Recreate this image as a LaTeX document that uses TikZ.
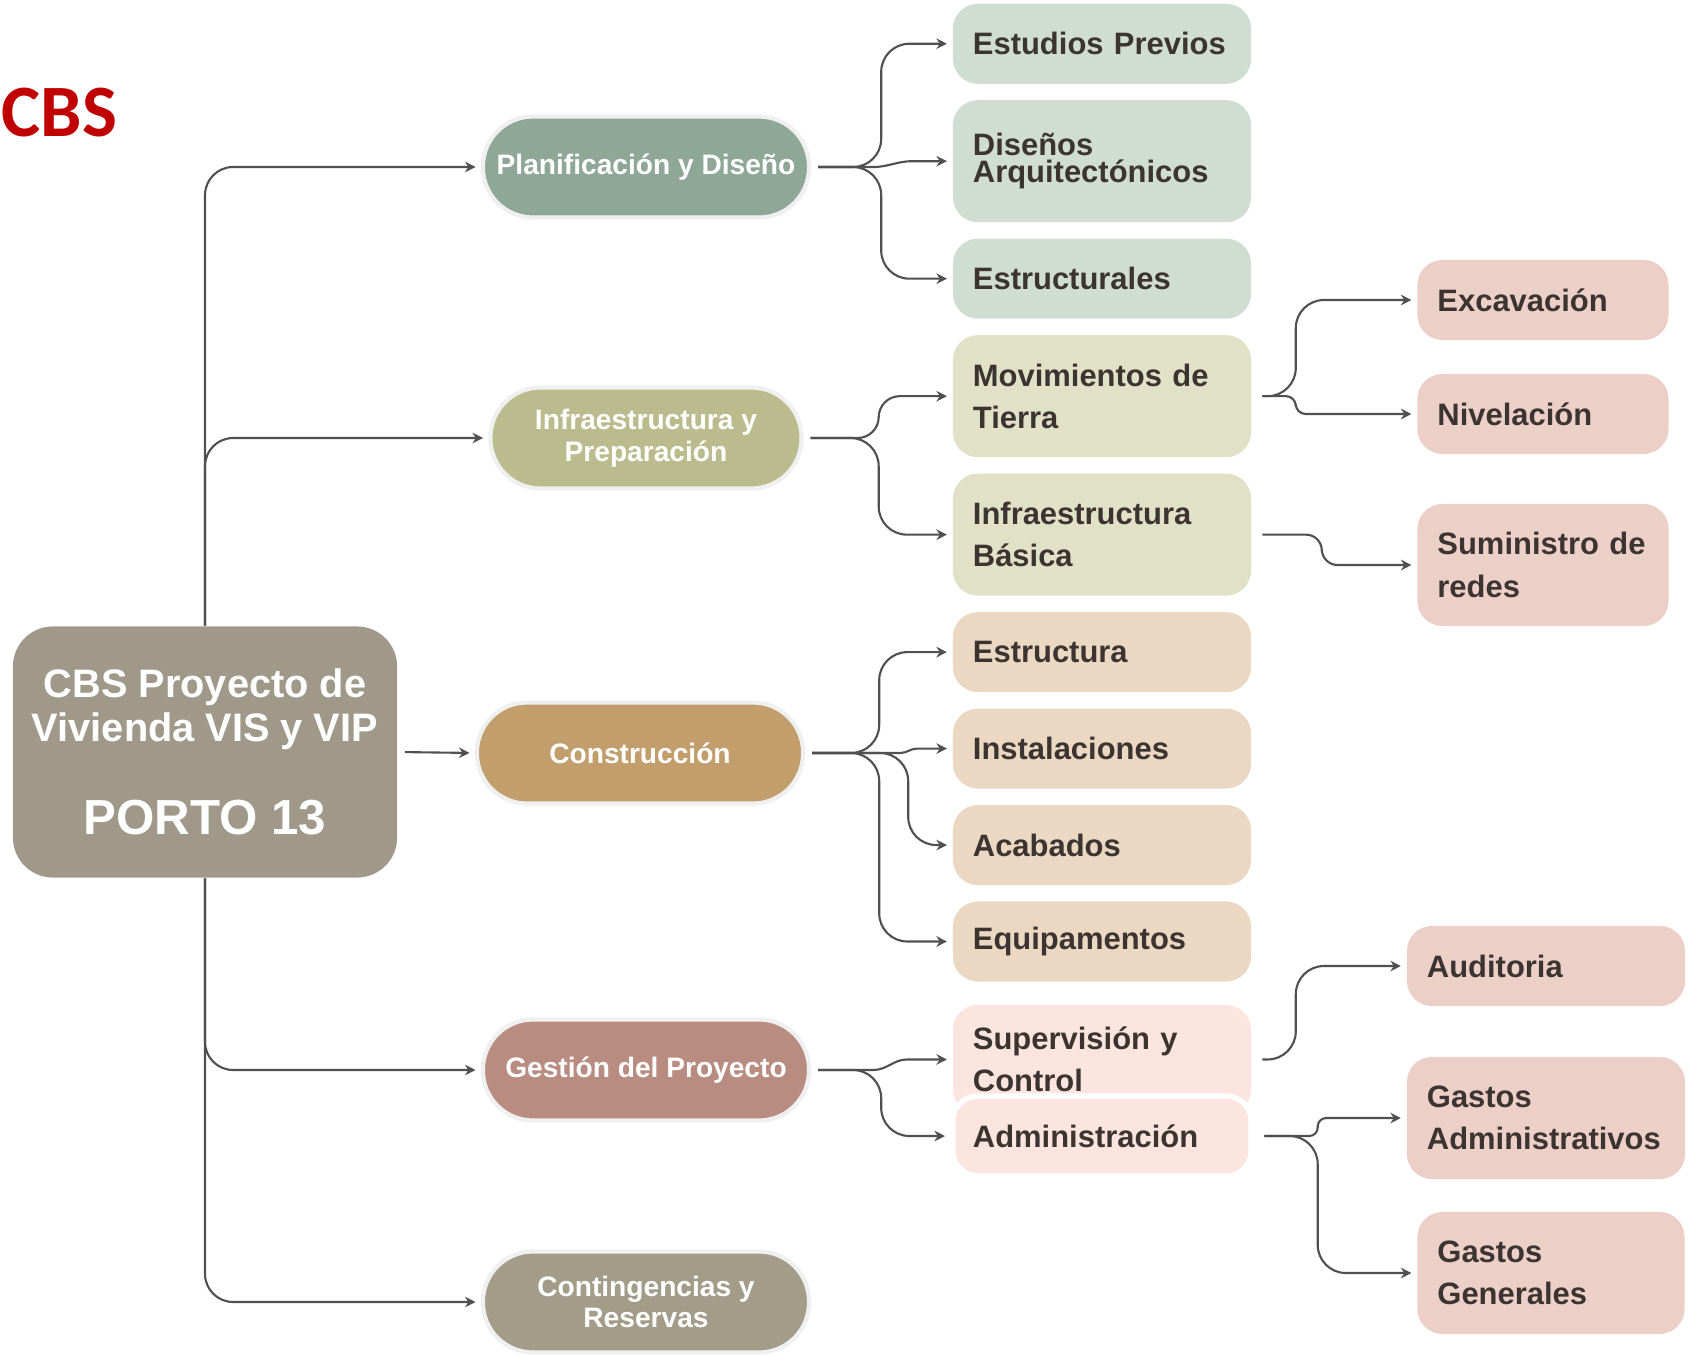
\documentclass[tikz,border=0pt]{standalone}
\usepackage{fontspec}
\setmainfont{Liberation Sans}
\newfontfamily\titlefont{Carlito}
\usetikzlibrary{arrows.meta,positioning}
\definecolor{cbsred}{RGB}{192,0,0}
\definecolor{rootgrey}{RGB}{160,153,138}
\definecolor{plangreen}{RGB}{143,167,150}
\definecolor{infraolive}{RGB}{187,188,142}
\definecolor{constrtan}{RGB}{194,158,108}
\definecolor{gestrose}{RGB}{184,140,128}
\definecolor{contgrey}{RGB}{163,156,136}
\definecolor{planlight}{RGB}{207,221,211}
\definecolor{infralight}{RGB}{225,225,199}
\definecolor{constrlight}{RGB}{235,216,195}
\definecolor{gestlight}{RGB}{252,229,223}
\definecolor{subpink}{RGB}{236,208,200}
\definecolor{boxtext}{RGB}{59,52,49}
\definecolor{linegrey}{RGB}{80,80,80}

\tikzset{
  rootbox/.style={rectangle,rounded corners=4mm,fill=rootgrey,text=white,
    minimum width=3.84cm,minimum height=2.51cm,align=center,
    font=\bfseries\fontsize{11.3}{12.4}\selectfont},
  pill/.style={rectangle,rounded corners=5mm,text=white,minimum height=1.01cm,
    minimum width=3.26cm,align=center,draw=black!6,line width=1.2pt,
    font=\bfseries\fontsize{8}{9}\selectfont},
  box/.style={rectangle,rounded corners=2.5mm,text=boxtext,text width=2.58cm,
    inner xsep=2mm,align=left,minimum height=0.8cm,
    font=\bfseries\fontsize{8.8}{12}\selectfont},
  tall/.style={minimum height=1.22cm},
  subbox/.style={box,fill=subpink,text width=2.11cm},
  conn/.style={draw=linegrey,line width=0.6pt,rounded corners=8pt,
    shorten >=1.5pt,-{Stealth[length=3pt,width=3pt]}},
  bump/.style={rounded corners=#1}
}

\begin{document}
\begin{tikzpicture}[x=0.01cm,y=-0.01cm,node distance=1.5mm]
  \useasboundingbox (0,0) rectangle (1690,1357);
  \node[font=\titlefont\bfseries\fontsize{21}{21}\selectfont,text=cbsred,
    anchor=west,inner sep=0] (title) at (1,113) {CBS};

  % root and first level
  \node[rootbox] (root) at (205,752) {CBS Proyecto de\\Vivienda VIS y VIP\\[14pt]
    {\fontsize{14}{16}\selectfont PORTO 13}};
  \node[pill,fill=plangreen] (plan) at (646,167) {Planificación y Diseño};
  \node[pill,fill=infraolive,minimum width=3.11cm] (infra) at (646,438) {Infraestructura y\\Preparación};
  \node[pill,fill=constrtan] (constr) at (640,753) {Construcción};
  \node[pill,fill=gestrose] (gest) at (646,1070) {Gestión del Proyecto};
  \node[pill,fill=contgrey] (cont) at (646,1302) {Contingencias y\\Reservas};

  % second level
  \node[box,fill=planlight,anchor=north] (estud) at (1102,3) {Estudios Previos};
  \node[box,tall,fill=planlight,below=of estud,
    font=\bfseries\fontsize{8.8}{7.6}\selectfont] (disen) {Diseños\\Arquitectónicos};
  \node[box,fill=planlight,below=of disen] (estrl) {Estructurales};
  \node[box,tall,fill=infralight,below=of estrl] (movim) {Movimientos de\\Tierra};
  \node[box,tall,fill=infralight,below=of movim] (infb) {Infraestructura\\Básica};
  \node[box,fill=constrlight,below=of infb] (estra) {Estructura};
  \node[box,fill=constrlight,below=of estra] (inst) {Instalaciones};
  \node[box,fill=constrlight,below=of inst] (acab) {Acabados};
  \node[box,fill=constrlight,below=of acab] (equip) {Equipamentos};
  \node[box,fill=gestlight,minimum height=1.09cm,below=2.2mm of equip] (superv) {Supervisión y\\Control};
  \node[box,fill=gestlight,draw=white,line width=1.5pt] (admin) at (1102,1136) {Administración};

  % third level
  \node[subbox] (excav) at (1543,300) {Excavación};
  \node[subbox] (nivel) at (1543,414) {Nivelación};
  \node[subbox,tall] (sumin) at (1543,565) {Suministro de\\redes};
  \node[subbox,text width=2.38cm] (audit) at (1546,966) {Auditoria};
  \node[subbox,tall,text width=2.38cm] (gadm) at (1546,1118) {Gastos\\Administrativos};
  \node[subbox,tall,text width=2.27cm] (ggen) at (1551,1273) {Gastos\\Generales};

  % connectors
  \draw[conn] (root.north) |- (plan.west);
  \draw[conn] (root.north) |- (infra.west);
  \draw[conn,shorten <=2pt] (root.east) -- (constr.west);
  \draw[conn] (root.south) |- (gest.west);
  \draw[conn] (root.south) |- (cont.west);
  \foreach \t in {estud,estrl}
    \draw[conn,shorten <=2pt] (plan.east) -- ++(70,0) |- (\t.west);
  \draw[conn,sharp corners,shorten <=2pt] (plan.east) -- ++(62,0)
    to[out=0,in=180] ([xshift=-0.4cm]disen.west) -- (disen.west);
  \draw[conn,bump=6pt,shorten <=2pt] (infra.east) -- ++(75,0) |- (movim.west);
  \draw[conn,shorten <=2pt] (infra.east) -- ++(75,0) |- (infb.west);
  \foreach \t in {estra,equip}
    \draw[conn,shorten <=2pt] (constr.east) -- ++(74,0) |- (\t.west);
  \draw[conn,sharp corners,shorten <=2pt] (constr.east) -- ++(95,0)
    to[out=0,in=180] ([xshift=-0.35cm]inst.west) -- (inst.west);
  \draw[conn,shorten <=2pt] (constr.east) -- ++(103,0) |- (acab.west);
  \draw[conn,sharp corners,shorten <=2pt] (gest.east) -- ++(62,0)
    to[out=0,in=180] ([xshift=-0.45cm]superv.west) -- (superv.west);
  \draw[conn,shorten <=2pt] (gest.east) -- ++(70,0) |- (admin.west);
  \draw[conn,shorten <=3pt] (movim.east) -- ++(44,0) |- (excav.west);
  \draw[conn,bump=2.8pt,shorten <=3pt] (movim.east) -- ++(44,0) |- (nivel.west);
  \draw[conn,bump=4.5pt,shorten <=3pt] (infb.east) -- ++(70,0) |- (sumin.west);
  \draw[conn,shorten <=3pt] (superv.east) -- ++(44,0) |- (audit.west);
  \draw[conn,bump=2.4pt,shorten <=3pt] (admin.east) -- ++(64,0) |- (gadm.west);
  \draw[conn,shorten <=3pt] (admin.east) -- ++(64,0) |- (ggen.west);
\end{tikzpicture}
\end{document}
